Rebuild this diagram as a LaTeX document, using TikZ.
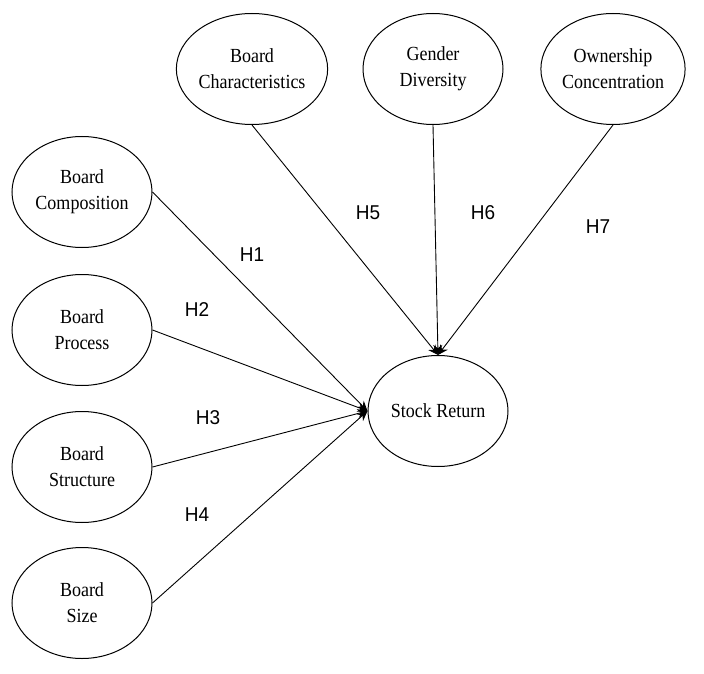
\documentclass[tikz,border=0pt]{standalone}
\usepackage{fontspec}
\setmainfont{Liberation Serif}
\setsansfont{Liberation Sans}
\newfontfamily\varfont[FakeStretch=0.9]{Liberation Serif}
\newfontfamily\hypfont[FakeStretch=0.95]{Liberation Sans}
\usetikzlibrary{arrows.meta,shapes.geometric}

\begin{document}
\begin{tikzpicture}[x=1pt,y=-1pt,
          var/.style={ellipse,draw=black,line width=1pt,
                      minimum width=140pt,minimum height=111pt,inner sep=0pt,
                      align=center,font=\varfont\fontsize{20}{26}\selectfont},
          hyp/.style={font=\hypfont\fontsize{20}{22}\selectfont},
          link/.style={line width=0.9pt,-{Stealth[length=10pt,width=9pt]}},
        ]
        \useasboundingbox (0,0) rectangle (704,674);
        \node[var] (comp)  at (82,192){Board\\Composition};
        \node[var] (proc)  at (82,330){Board\\Process};
        \node[var] (struc) at (82,467){Board\\Structure};
        \node[var] (size)  at (82,603){Board\\Size};
        \node[var] (char)  at (252,69){Board\\Characteristics};
        \node[var] (gend)  at (433,69){Gender\\Diversity};
        \node[var] (own)   at (613,69){Ownership\\Concentration};
        \node[var] (ret)   at (438,411){Stock Return};
        \foreach \a in {comp,proc,struc,size}{
          \draw[link](\a.east)--(ret.west);
        }
        \foreach \a in {char,gend,own}{
          \draw[link](\a.south)--(ret.north);
        }
        \node[hyp] (h1) at (252,255){H1};
        \node[hyp] (h2) at (197,310){H2};
        \node[hyp] (h3) at (208,418){H3};
        \node[hyp] (h4) at (197,515){H4};
        \node[hyp] (h5) at (368,213){H5};
        \node[hyp] (h6) at (483,213){H6};
        \node[hyp] (h7) at (598,227){H7};
      \end{tikzpicture}
\end{document}
